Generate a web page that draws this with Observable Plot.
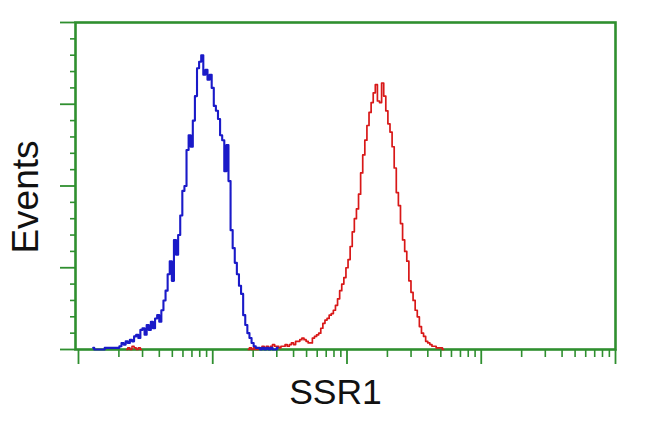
<!DOCTYPE html>
<html>
<head>
<meta charset="utf-8">
<script src="https://cdn.jsdelivr.net/npm/d3@7"></script>
<script src="https://cdn.jsdelivr.net/npm/@observablehq/plot@0.6"></script>
<style>
  html, body { margin: 0; padding: 0; background: #fff; }
  #chart { width: 650px; height: 432px; }
</style>
</head>
<body>
<div id="chart"></div>
<script>
// Histogram counts per channel (256 channels over 4 decades)
const blueStart = 7;
const blueCounts = [1,0,0,0,0,0,1,1,1,1,1,1,1,2,4,3,5,4,6,5,8,9,7,12,13,9,15,12,17,13,19,21,17,24,30,36,46,54,42,67,58,70,82,97,100,122,131,124,140,155,172,176,180,168,171,165,168,160,149,146,141,131,128,109,125,103,73,62,53,46,39,34,21,15,10,7,4,2,1,1,0,1,0,1,0,1,0,0,1];
const redLowStart = 23;
const redLowCounts = [0,1,0,2,1,0,1,0];
const redStart = 81;
const redCounts = [0,1,0,1,0,1,1,2,1,2,1,2,3,2,2,1,2,2,3,2,3,4,3,5,5,6,7,6,5,4,4,7,8,9,10,13,16,18,19,21,22,24,27,31,36,40,44,50,55,63,72,80,86,95,108,119,128,137,145,151,157,162,152,151,163,155,146,138,133,124,111,96,88,77,67,60,54,42,35,30,24,20,14,10,8,5,4,3,2,2,1,1,1,0];
const channelsPerDecade = 64;

// Axis ticks
const xMajorTicks = [1, 10, 100, 1000, 10000];
const xMinorMultipliers = [2, 3, 4, 5, 6, 7, 8, 9];
const yMajorTicks = [0, 50, 100, 150, 200];
const yMinorTicks = [10, 20, 30, 40, 60, 70, 80, 90, 110, 120, 130, 140, 160, 170, 180, 190];

const xLabel = "SSR1";
const yLabel = "Events";

const toRows = (start, counts) => counts.map((c, i) => ({x: Math.pow(10, (start + i) / channelsPerDecade), y: c}));
const blue = toRows(blueStart, blueCounts);
const redLow = toRows(redLowStart, redLowCounts);
const red = toRows(redStart, redCounts);
const xMinorTicks = xMajorTicks.slice(0, -1).flatMap(d => xMinorMultipliers.map(m => m * d));

const green = "#2f8f2f";
const font = "'Liberation Sans', Arial, sans-serif";

const chart = Plot.plot({
  width: 650,
  height: 432,
  marginLeft: 75,
  marginRight: 35,
  marginTop: 22,
  marginBottom: 83,
  style: {background: "#fff", fontFamily: font},
  x: {type: "log", domain: [0.95, 10000]},
  y: {domain: [0, 200]},
  marks: [
    Plot.axisX({ticks: xMinorTicks, tickSize: 8, tickFormat: () => "", label: null, stroke: green, strokeWidth: 1.6}),
    Plot.axisX({ticks: xMajorTicks, tickSize: 15, tickFormat: () => "", label: null, stroke: green, strokeWidth: 1.8}),
    Plot.axisY({ticks: yMinorTicks, tickSize: 5, tickFormat: () => "", label: null, stroke: green, strokeWidth: 1.6}),
    Plot.axisY({ticks: yMajorTicks, tickSize: 15, tickFormat: () => "", label: null, stroke: green, strokeWidth: 1.8}),
    Plot.frame({stroke: green, strokeWidth: 2.6}),
    Plot.line(redLow, {x: "x", y: "y", curve: "step", stroke: "#d81818", strokeWidth: 1.6}),
    Plot.line(red, {x: "x", y: "y", curve: "step", stroke: "#d81818", strokeWidth: 1.7}),
    Plot.line(blue, {x: "x", y: "y", curve: "step", stroke: "#1a1ac8", strokeWidth: 2.1}),
    Plot.text([xLabel], {text: d => d, frameAnchor: "bottom", textAnchor: "middle", dx: -10, dy: 54, fontSize: 35.5, fill: "#111", fontFamily: font}),
    Plot.text([yLabel], {text: d => d, frameAnchor: "left", textAnchor: "middle", rotate: -90, dx: -49, dy: 11, fontSize: 37, fill: "#111", fontFamily: font})
  ]
});
document.getElementById("chart").appendChild(chart);
</script>
</body>
</html>
